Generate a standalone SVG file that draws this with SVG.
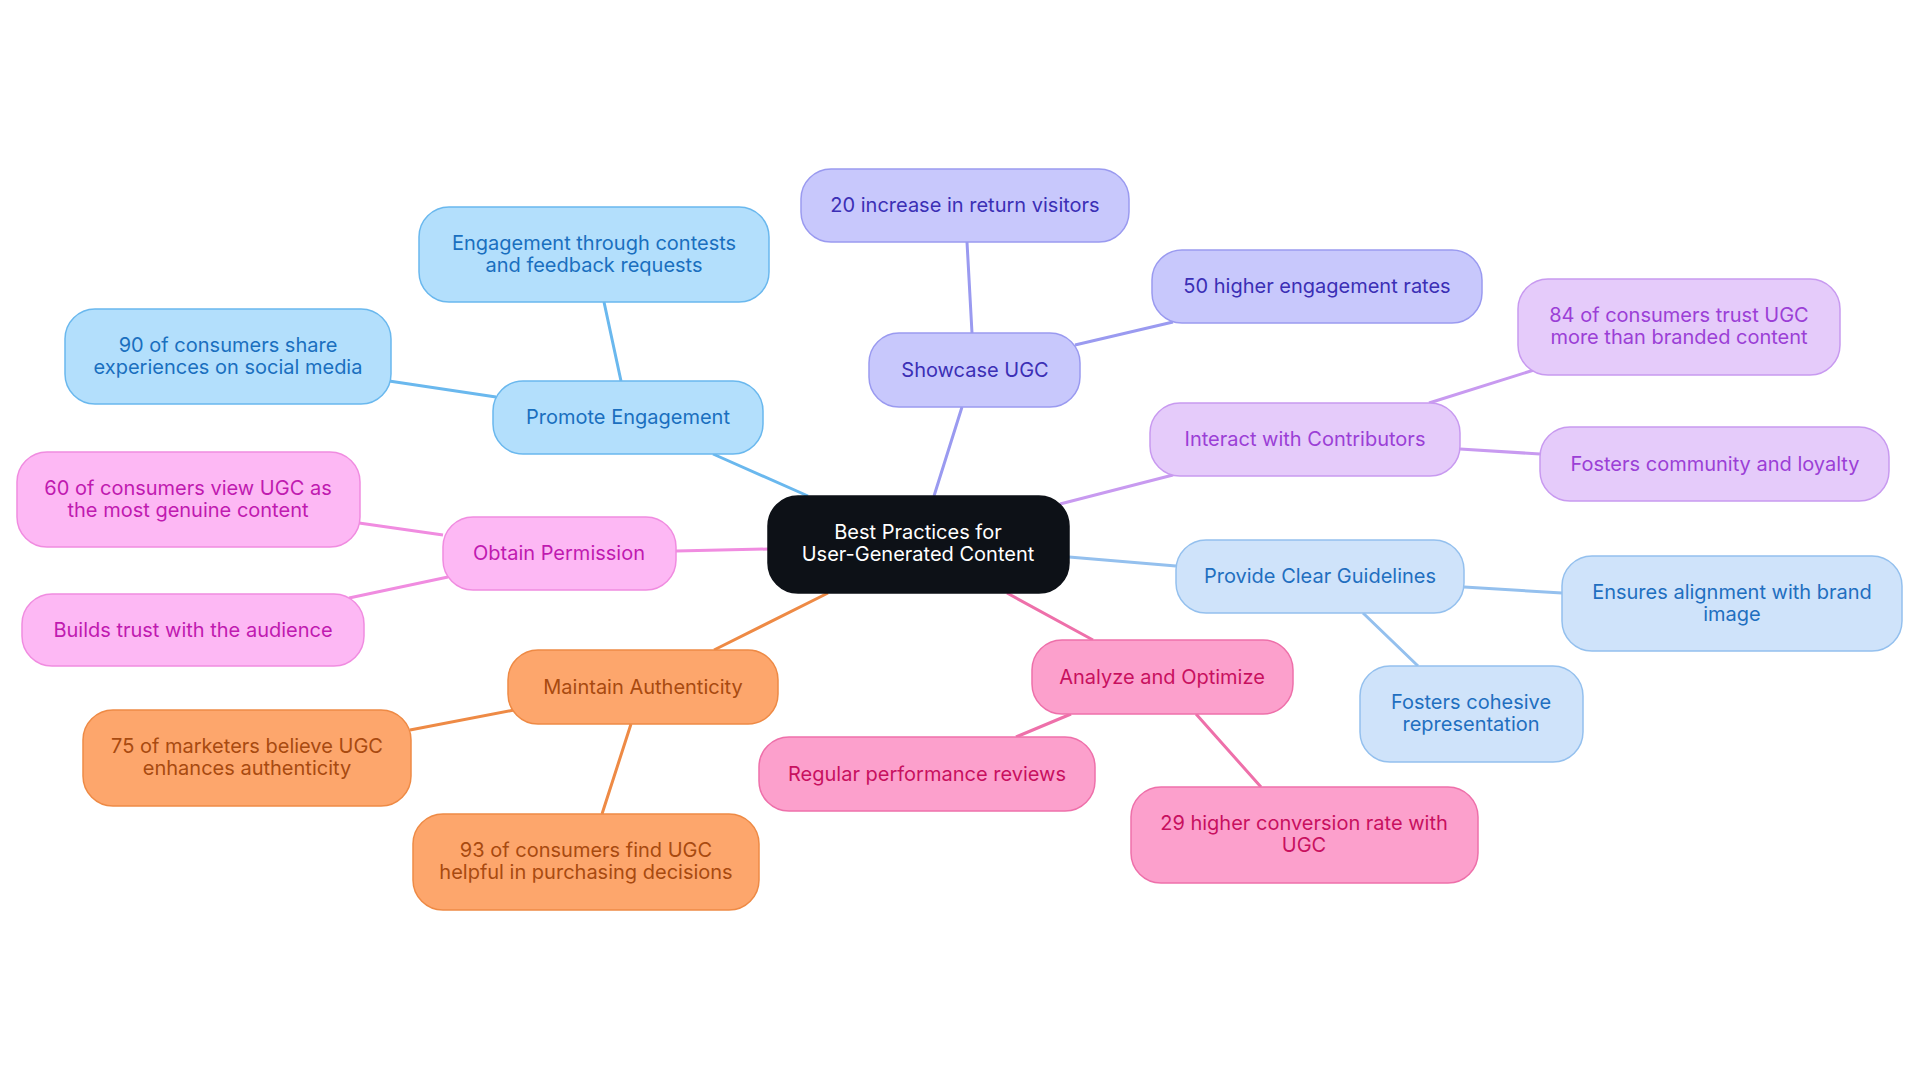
<svg xmlns="http://www.w3.org/2000/svg" width="1920" height="1083" viewBox="0 0 1920 1083">
<style>
text{font-family:Inter,"Noto Sans",sans-serif;font-size:20px;text-anchor:middle;dominant-baseline:central}
rect{stroke-width:1.5}
.c{stroke-width:3;fill:none}
.b rect{fill:#b3dffc;stroke:#6ab8ee}.b text{fill:#1a6fbf}
.v rect{fill:#c8c8fc;stroke:#9a9af0}.v text{fill:#3b2fb5}
.p rect{fill:#e5cbfa;stroke:#c89af0}.p text{fill:#9b3fd6}
.l rect{fill:#cfe3fa;stroke:#94c0ee}.l text{fill:#1f6fc0}
.r rect{fill:#fca0cc;stroke:#ee70aa}.r text{fill:#c8105f}
.o rect{fill:#fda66c;stroke:#ee8a45}.o text{fill:#a84a10}
.m rect{fill:#fdb8f4;stroke:#f08ce0}.m text{fill:#c01ab0}
</style>
<rect width="1920" height="1083" fill="#fff"/>
<g id="connectors">
<path class="c" stroke="#6ab8ee" d="M808,496L713,454M621,381L604,302M496,397L389,381"/>
<path class="c" stroke="#9a9af0" d="M934,496L962,407M972,333L967,242M1075,345L1173,322"/>
<path class="c" stroke="#c89af0" d="M1060,504L1173,475M1429,403L1534,370M1460,449L1540,454"/>
<path class="c" stroke="#94c0ee" d="M1069,557L1176,566M1464,587L1562,593M1363,613L1418,666"/>
<path class="c" stroke="#ee70aa" d="M1007,593L1093,640M1071,714L1016,737M1196,714L1261,787"/>
<path class="c" stroke="#ee8a45" d="M828,593L714,650M514,710L410,730M631,724L602,814"/>
<path class="c" stroke="#f08ce0" d="M768,549L676,551M443,535L359,523M448,577L349,598"/>
</g>
<g id="center"><rect x="768" y="496" width="301" height="97" rx="30" fill="#0d1117" stroke="#0d1117"/><text x="918" y="532" fill="#fff">Best Practices for</text><text x="918" y="554" fill="#fff">User-Generated Content</text></g>
<g id="promote" class="b"><rect x="493" y="381" width="270" height="73" rx="30"/><text x="628" y="417">Promote Engagement</text></g>
<g id="contests" class="b"><rect x="419" y="207" width="350" height="95" rx="30"/><text x="594" y="243">Engagement through contests</text><text x="594" y="265">and feedback requests</text></g>
<g id="share" class="b"><rect x="65" y="309" width="326" height="95" rx="30"/><text x="228" y="345">90 of consumers share</text><text x="228" y="367">experiences on social media</text></g>
<g id="showcase" class="v"><rect x="869" y="333" width="211" height="74" rx="30"/><text x="975" y="370">Showcase UGC</text></g>
<g id="return" class="v"><rect x="801" y="169" width="328" height="73" rx="30"/><text x="965" y="205">20 increase in return visitors</text></g>
<g id="engage" class="v"><rect x="1152" y="250" width="330" height="73" rx="30"/><text x="1317" y="286">50 higher engagement rates</text></g>
<g id="interact" class="p"><rect x="1150" y="403" width="310" height="73" rx="30"/><text x="1305" y="439">Interact with Contributors</text></g>
<g id="trust84" class="p"><rect x="1518" y="279" width="322" height="96" rx="30"/><text x="1679" y="315">84 of consumers trust UGC</text><text x="1679" y="337">more than branded content</text></g>
<g id="community" class="p"><rect x="1540" y="427" width="349" height="74" rx="30"/><text x="1715" y="464">Fosters community and loyalty</text></g>
<g id="guidelines" class="l"><rect x="1176" y="540" width="288" height="73" rx="30"/><text x="1320" y="576">Provide Clear Guidelines</text></g>
<g id="alignment" class="l"><rect x="1562" y="556" width="340" height="95" rx="30"/><text x="1732" y="592">Ensures alignment with brand</text><text x="1732" y="614">image</text></g>
<g id="cohesive" class="l"><rect x="1360" y="666" width="223" height="96" rx="30"/><text x="1471" y="702">Fosters cohesive</text><text x="1471" y="724">representation</text></g>
<g id="analyze" class="r"><rect x="1032" y="640" width="261" height="74" rx="30"/><text x="1162" y="677">Analyze and Optimize</text></g>
<g id="reviews" class="r"><rect x="759" y="737" width="336" height="74" rx="30"/><text x="927" y="774">Regular performance reviews</text></g>
<g id="conversion" class="r"><rect x="1131" y="787" width="347" height="96" rx="30"/><text x="1304" y="823">29 higher conversion rate with</text><text x="1304" y="845">UGC</text></g>
<g id="authenticity" class="o"><rect x="508" y="650" width="270" height="74" rx="30"/><text x="643" y="687">Maintain Authenticity</text></g>
<g id="marketers" class="o"><rect x="83" y="710" width="328" height="96" rx="30"/><text x="247" y="746">75 of marketers believe UGC</text><text x="247" y="768">enhances authenticity</text></g>
<g id="purchasing" class="o"><rect x="413" y="814" width="346" height="96" rx="30"/><text x="586" y="850">93 of consumers find UGC</text><text x="586" y="872">helpful in purchasing decisions</text></g>
<g id="permission" class="m"><rect x="443" y="517" width="233" height="73" rx="30"/><text x="559" y="553">Obtain Permission</text></g>
<g id="genuine" class="m"><rect x="17" y="452" width="343" height="95" rx="30"/><text x="188" y="488">60 of consumers view UGC as</text><text x="188" y="510">the most genuine content</text></g>
<g id="builds" class="m"><rect x="22" y="594" width="342" height="72" rx="30"/><text x="193" y="630">Builds trust with the audience</text></g>
</svg>
